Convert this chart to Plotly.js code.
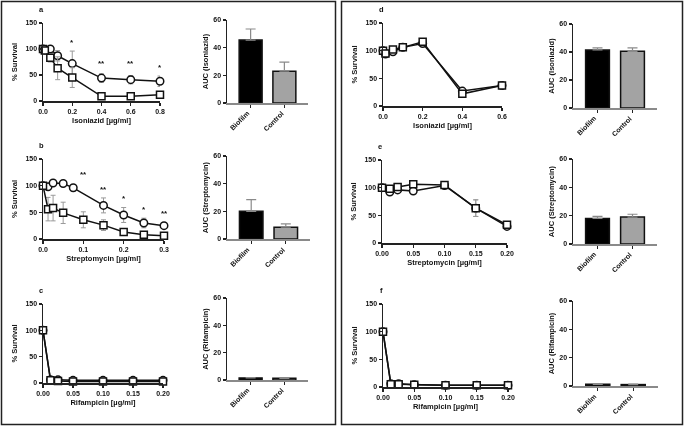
<!DOCTYPE html>
<html>
<head>
<meta charset="utf-8">
<script src="https://cdn.plot.ly/plotly-3.0.1.min.js"></script>
<style>
  html, body { margin: 0; padding: 0; background: #fff; }
  #plot { width: 685px; height: 426px; will-change: transform; }
</style>
</head>
<body>
<div id="plot"></div>
<script>
// ---- data ----
// a: Isoniazid (biofilm vs control survival)
var aX = [0, 0.0125, 0.05, 0.1, 0.2, 0.4, 0.6, 0.8];
var aCirc = [100, 98, 100, 87, 72, 44, 41, 38];
var aCircErr = [0, 3, 4, 10, 24, 8, 8, 10];
var aSq = [100, 97, 83, 63, 45, 9, 9, 12];
var aSqErr = [0, 4, 8, 22, 19, 2, 2, 3];

// b: Streptomycin
var bCircX = [0, 0.0125, 0.025, 0.05, 0.075, 0.15, 0.2, 0.25, 0.3];
var bCirc = [100, 98, 105, 104, 96, 63, 45, 30, 25];
var bCircErr = [0, 2, 2, 2, 6, 14, 14, 9, 5];
var bSqX = [0, 0.0125, 0.025, 0.05, 0.1, 0.15, 0.2, 0.25, 0.3];
var bSq = [100, 56, 58, 49, 36, 26, 13, 8, 6];
var bSqErr = [0, 22, 24, 20, 15, 10, 5, 3, 2];

// c: Rifampicin
var cX = [0, 0.0125, 0.025, 0.05, 0.1, 0.15, 0.2];
var cCirc = [100, 6, 6, 5, 5, 5, 5];
var cSq = [100, 5, 4, 3, 3, 3, 3];
var cErr = [0, 1, 1, 1, 1, 1, 1];

// d: Isoniazid
var dX = [0, 0.0125, 0.05, 0.1, 0.2, 0.4, 0.6];
var dCirc = [100, 94, 98, 106, 113, 27, 37];
var dSq = [100, 95, 102, 106, 116, 22, 37];
var dErr = [0, 3, 3, 3, 3, 4, 6];

// e: Streptomycin
var eX = [0, 0.0125, 0.025, 0.05, 0.1, 0.15, 0.2];
var eCirc = [100, 92, 96, 94, 104, 63, 30];
var eSq = [100, 98, 101, 106, 105, 63, 33];
var eErr = [0, 2, 2, 2, 2, 15, 4];

// f: Rifampicin
var fX = [0, 0.0125, 0.025, 0.05, 0.1, 0.15, 0.2];
var fCirc = [100, 6, 6, 4, 3, 3, 3];
var fSq = [100, 5, 5, 4, 3, 3, 3];
var fErr = [0, 1, 1, 1, 1, 1, 1];

// AUC bars
var groups = ['Biofilm', 'Control'];
var aucA = [45.5, 23], aucAErr = [8, 6.5];
var aucB = [20, 8.5], aucBErr = [8.5, 2.5];
var aucC = [1.5, 1.2], aucCErr = [0.3, 0.3];
var aucD = [41.5, 40.5], aucDErr = [1.5, 2.5];
var aucE = [18, 19], aucEErr = [1.5, 2];
var aucF = [1.2, 1.0], aucFErr = [0.3, 0.3];

// stars
var starsAX = [0.2, 0.4, 0.6, 0.8], starsAY = [113, 72, 72, 65], starsAT = ['*', '**', '**', '*'];
var starsBX = [0.1, 0.15, 0.2, 0.25, 0.3], starsBY = [120, 93, 75, 56, 48], starsBT = ['**', '**', '*', '*', '**'];

// ---- styling helpers ----
var W = 685, H = 426;
var FONT = 'Liberation Sans, Arial, sans-serif';
function fx(a, b) { return [a / W, b / W]; }
function fy(top, bottom) { return [1 - bottom / H, 1 - top / H]; }

var data = [];
var layout = {
  width: W, height: H,
  margin: {l: 0, r: 0, t: 0, b: 0},
  paper_bgcolor: '#fff', plot_bgcolor: 'rgba(0,0,0,0)',
  showlegend: false,
  font: {family: FONT, color: '#111', size: 7, weight: 'bold'},
  annotations: [],
  shapes: [
    {type: 'rect', xref: 'paper', yref: 'paper', x0: 1.5 / W, x1: 335.5 / W, y0: 1 - 424.5 / H, y1: 1 - 1.5 / H, line: {color: '#222', width: 1.5}},
    {type: 'rect', xref: 'paper', yref: 'paper', x0: 341.5 / W, x1: 682.5 / W, y0: 1 - 424.5 / H, y1: 1 - 1.5 / H, line: {color: '#222', width: 1.5}}
  ]
};

function axisBase(dom, title, standoff) {
  return {
    domain: dom, showline: true, linecolor: '#222', linewidth: 1.5,
    ticks: 'outside', ticklen: 3, tickwidth: 1.2, tickcolor: '#222',
    showgrid: false, zeroline: false, fixedrange: true,
    tickfont: {family: FONT, size: 7, color: '#111', weight: 'bold'},
    title: {text: title, standoff: standoff, font: {family: FONT, size: 7.5, color: '#111', weight: 'bold'}}
  };
}

var n = 0;
function survivalPanel(letter, xd, yd, xr, dtick, fmt, xTitle, circX, circ, circErr, sqX, sq, sqErr) {
  n++;
  var xa = 'x' + n, ya = 'y' + n;
  var xk = 'xaxis' + n, yk = 'yaxis' + n;
  var xax = axisBase(xd, xTitle, 4);
  xax.range = xr; xax.tick0 = 0; xax.dtick = dtick; xax.tickformat = fmt; xax.anchor = ya;
  var yax = axisBase(yd, '% Survival', 7);
  yax.range = [0, 150]; yax.tick0 = 0; yax.dtick = 50; yax.anchor = xa;
  layout[xk] = xax; layout[yk] = yax;
  var common = {type: 'scatter', mode: 'lines+markers', xaxis: xa, yaxis: ya, cliponaxis: false,
    line: {color: '#111', width: 1.5}};
  data.push(Object.assign({}, common, {x: circX, y: circ,
    marker: {symbol: 'circle', size: 7.5, color: '#fff', line: {color: '#111', width: 1.5}},
    error_y: {type: 'data', array: circErr, color: '#9a9a9a', thickness: 1, width: 2.5}}));
  data.push(Object.assign({}, common, {x: sqX, y: sq,
    marker: {symbol: 'square', size: 7, color: '#fff', line: {color: '#111', width: 1.5}},
    error_y: {type: 'data', array: sqErr, color: '#9a9a9a', thickness: 1, width: 2.5}}));
  layout.annotations.push({xref: 'paper', yref: 'paper', x: xd[0] - 2 / W, y: yd[1] + 7 / H,
    text: letter, showarrow: false, xanchor: 'center', yanchor: 'bottom',
    font: {family: FONT, size: 7.5, color: '#111', weight: 'bold'}});
  return {xa: xa, ya: ya};
}

function starNotes(ax, xs, ys, ts) {
  for (var i = 0; i < xs.length; i++) {
    layout.annotations.push({xref: ax.xa, yref: ax.ya, x: xs[i], y: ys[i], text: ts[i],
      showarrow: false, font: {family: FONT, size: 8, color: '#111', weight: 'bold'}});
  }
}

function aucPanel(xd, yd, title, vals, errs) {
  n++;
  var xa = 'x' + n, ya = 'y' + n;
  var xax = axisBase(xd, '', 0);
  xax.type = 'category'; xax.range = [-0.7, 1.7]; xax.anchor = ya;
  xax.linecolor = '#8a8a8a'; xax.tickcolor = '#222'; xax.showticklabels = false;
  var yax = axisBase(yd, title, 3);
  yax.range = [0, 60]; yax.tick0 = 0; yax.dtick = 20; yax.anchor = xa;
  layout['xaxis' + n] = xax; layout['yaxis' + n] = yax;
  data.push({type: 'bar', x: groups, y: vals, xaxis: xa, yaxis: ya, width: 0.68,
    marker: {color: ['#000', '#a3a3a3'], line: {color: '#111', width: 1.5}},
    error_y: {type: 'data', symmetric: false, array: errs, arrayminus: [0, 0], color: '#8a8a8a', thickness: 1.2, width: 5}});
  // slanted category labels, ending just below each tick
  groups.forEach(function (g) {
    layout.annotations.push({xref: xa, yref: 'paper', x: g, y: yd[0] - 4 / H, text: g,
      textangle: -45, showarrow: false, xanchor: 'right', yanchor: 'top', xshift: 3,
      font: {family: FONT, size: 7, color: '#111', weight: 'bold'}});
  });
}

// left column
var pa = survivalPanel('a', fx(43, 160), fy(23, 101), [0, 0.8], 0.2, '.1f', 'Isoniazid [µg/ml]', aX, aCirc, aCircErr, aX, aSq, aSqErr);
starNotes(pa, starsAX, starsAY, starsAT);
aucPanel(fx(227, 308), fy(20, 103), 'AUC (Isoniazid)', aucA, aucAErr);

var pb = survivalPanel('b', fx(43, 164), fy(159, 239), [0, 0.3], 0.1, '.1f', 'Streptomycin [µg/ml]', bCircX, bCirc, bCircErr, bSqX, bSq, bSqErr);
starNotes(pb, starsBX, starsBY, starsBT);
aucPanel(fx(227, 310), fy(156, 239), 'AUC (Streptomycin)', aucB, aucBErr);

survivalPanel('c', fx(43, 163), fy(304, 383), [0, 0.2], 0.05, '.2f', 'Rifampicin [µg/ml]', cX, cCirc, cErr, cX, cSq, cErr);
aucPanel(fx(227, 308), fy(298, 380), 'AUC (Rifampicin)', aucC, aucCErr);

// right column
survivalPanel('d', fx(383, 502), fy(23, 106), [0, 0.6], 0.2, '.1f', 'Isoniazid [µg/ml]', dX, dCirc, dErr, dX, dSq, dErr);
aucPanel(fx(573, 657), fy(24, 108), 'AUC (Isoniazid)', aucD, aucDErr);

survivalPanel('e', fx(382, 507), fy(160, 243), [0, 0.2], 0.05, '.2f', 'Streptomycin [µg/ml]', eX, eCirc, eErr, eX, eSq, eErr);
aucPanel(fx(573, 657), fy(159, 244), 'AUC (Streptomycin)', aucE, aucEErr);

survivalPanel('f', fx(383, 508), fy(304, 387), [0, 0.2], 0.05, '.2f', 'Rifampicin [µg/ml]', fX, fCirc, fErr, fX, fSq, fErr);
aucPanel(fx(573, 658), fy(301, 386), 'AUC (Rifampicin)', aucF, aucFErr);

Plotly.newPlot('plot', data, layout, {staticPlot: true, displayModeBar: false});
</script>
</body>
</html>
